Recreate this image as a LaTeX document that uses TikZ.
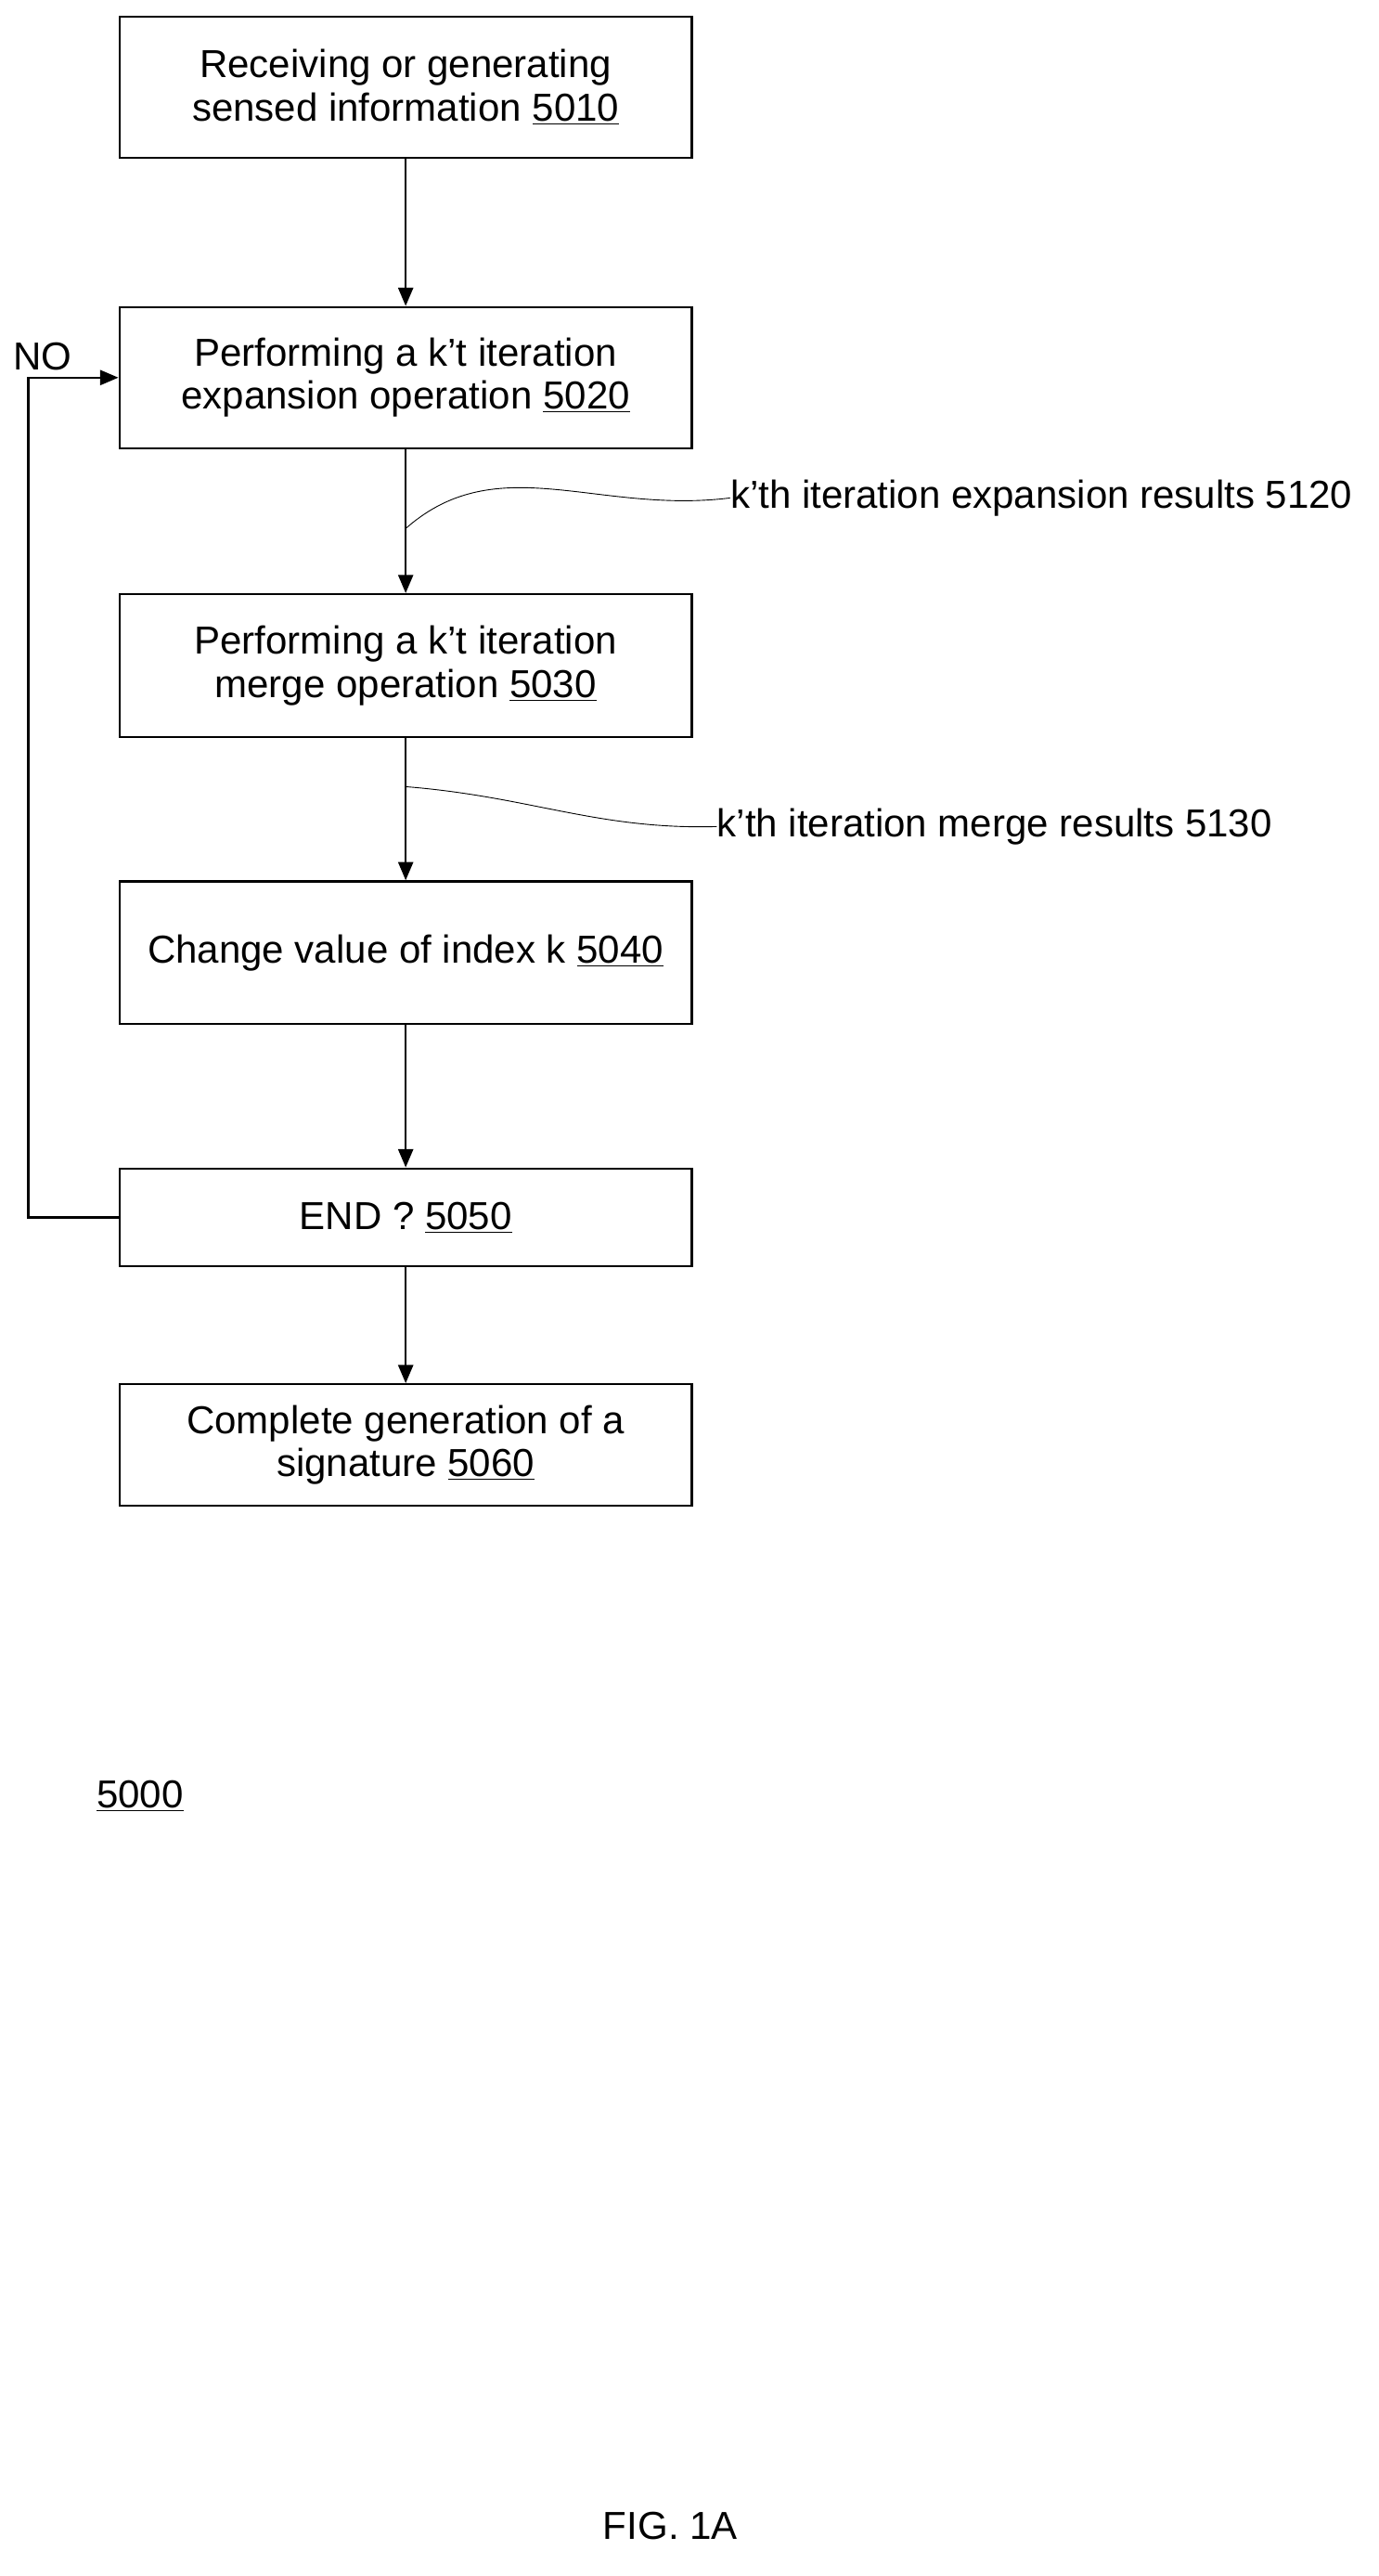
\documentclass[tikz,border=0pt]{standalone}
\usepackage{fontspec}
\setmainfont{Liberation Sans}
\usetikzlibrary{arrows.meta}
\begin{document}
\begin{tikzpicture}[x=1pt,y=-1pt,
  box/.style={draw,line width=1.3pt,minimum width=345pt,align=center,font=\fontsize{23.5}{26}\selectfont,inner sep=0pt},
  arr/.style={line width=1.3pt,-{Triangle[length=11pt,width=9pt]}},
  lbl/.style={font=\fontsize{23.5}{26}\selectfont,anchor=west,inner sep=0pt},
  lead/.style={line width=0.5pt}]
\useasboundingbox (0,0) rectangle (831,1552);
\node[box,minimum height=85pt] (b1) at (244.5,52.5) {Receiving or generating\\sensed information \underline{5010}};
\node[box,minimum height=85pt] (b2) at (244.5,227.5) {Performing a k’t iteration\\expansion operation \underline{5020}};
\node[box,minimum height=86pt] (b3) at (244.5,401) {Performing a k’t iteration\\merge operation \underline{5030}};
\node[box,minimum height=86pt] (b4) at (244.5,574) {Change value of index k \underline{5040}};
\node[box,minimum height=59pt] (b5) at (244.5,733.5) {END ? \underline{5050}};
\node[box,minimum height=73pt] (b6) at (244.5,870.5) {Complete generation of a\\signature \underline{5060}};
\draw[arr] (b1) -- (b2);
\draw[arr] (b2) -- (b3);
\draw[arr] (b3) -- (b4);
\draw[arr] (b4) -- (b5);
\draw[arr] (b5) -- (b6);
\coordinate (c1) at (17,733.5);
\draw[arr] (b5.west) -- (c1) |- (b2.west);
\node[lbl] (no) at (8,215) {NO};
\node[lbl] (l1) at (440,300) {k’th iteration expansion results 5120};
\node[lbl] (l2) at (432,498) {k’th iteration merge results 5130};
\coordinate (p1) at (245,318);
\coordinate (p2) at (245,474);
\draw[lead] (p1) .. controls (300,270) and (360,310) .. (l1.west);
\draw[lead] (p2) .. controls (320,480) and (360,500) .. (l2.west);
\node[lbl] (n5000) at (58,1082) {\underline{5000}};
\node[font=\fontsize{23.5}{26}\selectfont] (fig) at (404,1522) {FIG. 1A};
\end{tikzpicture}
\end{document}
